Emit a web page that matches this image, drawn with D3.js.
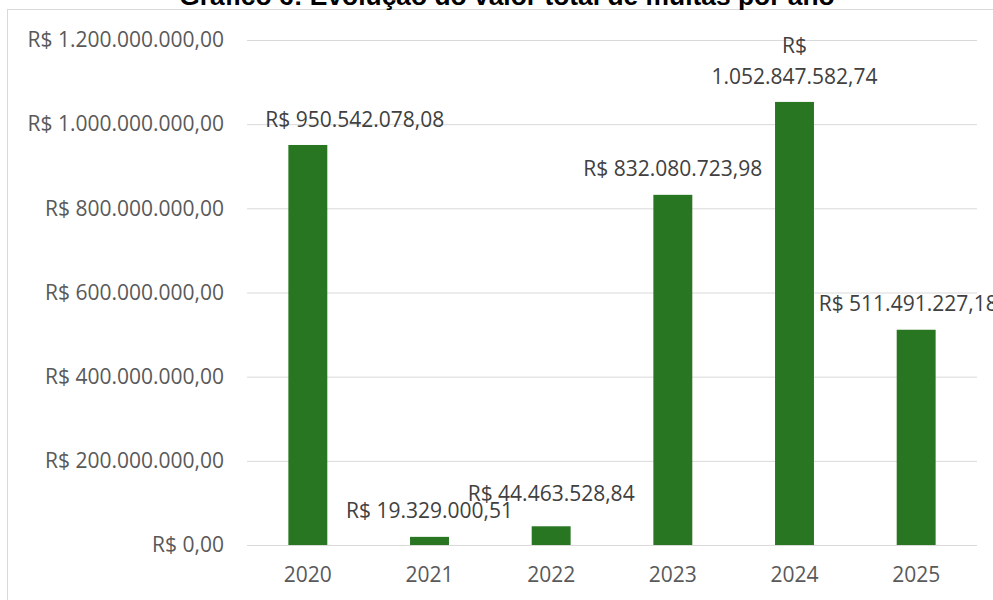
<!DOCTYPE html>
<html>
<head>
<meta charset="utf-8">
<script src="https://cdn.jsdelivr.net/npm/d3@7"></script>
<style>
  html, body { margin: 0; padding: 0; background: #ffffff; }
  svg { display: block; }
</style>
</head>
<body>
<svg id="chart" width="993" height="600"></svg>
<script>
// Total fines per year (R$)
const years = ["2020", "2021", "2022", "2023", "2024", "2025"];
const totals = [950542078.08, 19329000.51, 44463528.84, 832080723.98, 1052847582.74, 511491227.18];
const yTicks = [0, 200000000, 400000000, 600000000, 800000000, 1000000000, 1200000000];
const titleText = "Gráfico 6: Evolução do valor total de multas por ano";

// Brazilian currency format: R$ 1.234.567,89
const brl = d3.formatLocale({
  decimal: ",", thousands: ".", grouping: [3], currency: ["R$ ", ""]
}).format("$,.2f");

const W = 993, H = 600;
const plot = { left: 247, right: 977, top: 40, bottom: 545 };
const FONT = "'Open Sans', 'Noto Sans', sans-serif";

const svg = d3.select("#chart");

// outer chart frame
svg.append("rect")
  .attr("x", 7.5).attr("y", 9.5)
  .attr("width", 1200).attr("height", 800)
  .attr("fill", "none").attr("stroke", "#d9d9d9").attr("stroke-width", 1);

// title (sits partly above the frame)
svg.append("text")
  .attr("x", 507).attr("y", 4.5)
  .attr("text-anchor", "middle")
  .attr("font-family", "'Liberation Sans', Arial, sans-serif")
  .attr("font-weight", "bold")
  .attr("font-size", 26.4)
  .attr("fill", "#000000")
  .text(titleText);

const x = d3.scaleBand().domain(years).range([plot.left, plot.right]).paddingInner(0).paddingOuter(0);
const y = d3.scaleLinear().domain([0, 1200000000]).range([plot.bottom, plot.top]);
const barW = x.bandwidth() * 0.32;

// gridlines + y labels
const yAxis = d3.axisLeft(y).tickValues(yTicks).tickFormat(brl)
  .tickSize(-(plot.right - plot.left)).tickPadding(23);
const gy = svg.append("g").attr("transform", `translate(${plot.left},0)`).call(yAxis);
gy.select(".domain").remove();
gy.selectAll(".tick line").attr("stroke", "#d9d9d9").attr("stroke-width", 1);
gy.selectAll(".tick text")
  .attr("font-family", FONT).attr("font-size", 21).attr("fill", "#595959");

// x labels
const xAxis = d3.axisBottom(x).tickSize(0).tickPadding(22);
const gx = svg.append("g").attr("transform", `translate(0,${plot.bottom})`).call(xAxis);
gx.select(".domain").remove();
gx.selectAll(".tick text")
  .attr("font-family", FONT).attr("font-size", 21).attr("fill", "#595959");

// bars
svg.append("g").selectAll("rect")
  .data(years.map((yr, i) => ({ yr, v: totals[i] })))
  .join("rect")
  .attr("x", d => x(d.yr) + (x.bandwidth() - barW) / 2)
  .attr("y", d => y(d.v))
  .attr("width", barW)
  .attr("height", d => y(0) - y(d.v))
  .attr("fill", "#287622");

// value labels, nudged where they were moved to avoid crowding
const nudge = { "2020": [47, 0], "2022": [0, -7], "2025": [-8, 0] };
const labels = svg.append("g")
  .attr("font-family", FONT).attr("font-size", 21).attr("fill", "#404040")
  .attr("text-anchor", "middle");
years.forEach((yr, i) => {
  const v = totals[i];
  const [dx, dy] = nudge[yr] || [0, 0];
  const cx = x(yr) + x.bandwidth() / 2 + dx;
  const top = y(v);
  const txt = brl(v);
  if (yr === "2024") {
    // long value wraps onto two lines
    const t = labels.append("text").attr("x", cx);
    t.append("tspan").attr("x", cx).attr("y", top - 56).attr("dy", "0.36em").text("R$");
    t.append("tspan").attr("x", cx).attr("y", top - 25).attr("dy", "0.36em").text(txt.replace("R$ ", ""));
  } else {
    labels.append("text").attr("x", cx).attr("y", top - 26 + dy).attr("dy", "0.36em").text(txt);
  }
});
</script>
</body>
</html>
